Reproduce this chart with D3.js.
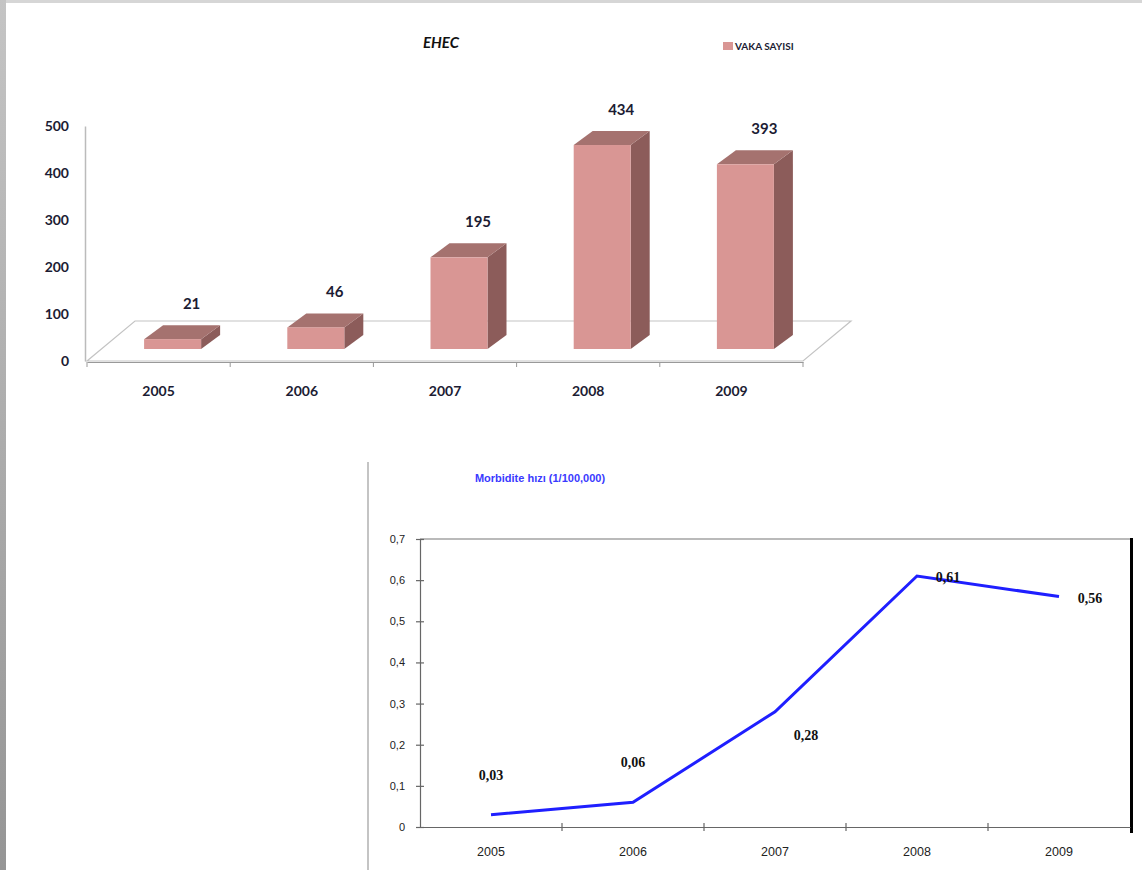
<!DOCTYPE html>
<meta charset="utf-8">
<style>
body { margin: 0; background: #fff; }
text { font-family: Lato, 'Open Sans', sans-serif; }
.barAxis text { font-size: 14px; font-weight: bold; fill: #1c1c33; }
.valueLabel { font-size: 15px; font-weight: bold; fill: #1c1c33; text-anchor: middle; }
.lineAxis text { font-family: 'Liberation Sans', Arial, sans-serif; font-size: 11px; fill: #222; }
.pointLabel { font-family: 'Liberation Serif', 'Times New Roman', serif; font-size: 14px; font-weight: bold; fill: #111; text-anchor: middle; }
</style>
<svg width="1142" height="870"></svg>
<script src="https://d3js.org/d3.v7.min.js"></script>
<script>

var years = ["2005", "2006", "2007", "2008", "2009"];
var caseCounts = [21, 46, 195, 434, 393];
var caseTicks = [0, 100, 200, 300, 400, 500];
var morbidity = [0.03, 0.06, 0.28, 0.61, 0.56];
var morbidityTicks = [0, 0.1, 0.2, 0.3, 0.4, 0.5, 0.6, 0.7];
var pointLabelSide = ["above", "above", "belowRight", "right", "right"];

var svg = d3.select("svg");

// page frame
var frameGrad = svg.append("defs").append("linearGradient")
    .attr("id", "frameGrad").attr("x1", 0).attr("y1", 0).attr("x2", 0).attr("y2", 1);
frameGrad.append("stop").attr("offset", "0%").attr("stop-color", "#c4c4c4");
frameGrad.append("stop").attr("offset", "100%").attr("stop-color", "#959595");
svg.append("rect").attr("x", 0).attr("y", 0).attr("width", 1142).attr("height", 3).attr("fill", "#d6d6d6");
svg.append("rect").attr("x", 0).attr("y", 0).attr("width", 6).attr("height", 870).attr("fill", "url(#frameGrad)");

// ---------- 3D bar chart ----------
var floorDepth = [48, -40],
    barStart = [14, -12],
    barDepth = [19, -14];

var x = d3.scaleBand().domain(years).range([87, 803]);
var y = d3.scaleLinear().domain([0, 500]).range([361, 126]);
var barWidth = 57;

// floor
var fl = [[87, y(0)], [803, y(0)], [803 + floorDepth[0], y(0) + floorDepth[1]], [87 + floorDepth[0], y(0) + floorDepth[1]]];
svg.append("polygon")
    .attr("points", fl.map(function(p) { return p.join(","); }).join(" "))
    .attr("fill", "#fff").attr("stroke", "#c4c4c4").attr("stroke-width", 1.2);

// x axis
var xAxisG = svg.append("g")
    .attr("class", "barAxis")
    .attr("transform", "translate(0," + (y(0) + 1) + ")")
    .call(d3.axisBottom(x).tickSize(0).tickPadding(24));
xAxisG.select(".domain").attr("stroke", "#999");
xAxisG.selectAll(".bound")
    .data(years.map(function(d) { return x(d); }).concat([x.range()[1]]))
    .enter().append("line")
    .attr("x1", function(d) { return d; }).attr("x2", function(d) { return d; })
    .attr("y1", 0).attr("y2", 5).attr("stroke", "#999");

// y axis
var yAxisG = svg.append("g")
    .attr("class", "barAxis")
    .attr("transform", "translate(85,0)")
    .call(d3.axisLeft(y).tickValues(caseTicks).tickSize(0).tickPadding(16));
yAxisG.select(".domain").attr("stroke", "#bbb").attr("stroke-width", 1.5);

// bars
var bars = svg.selectAll(".bar3d")
    .data(years.map(function(d, i) { return {year: d, value: caseCounts[i]}; }))
    .enter().append("g").attr("class", "bar3d");

function pts(a) { return a.map(function(p) { return p.join(","); }).join(" "); }

bars.each(function(d) {
  var g = d3.select(this);
  var x0 = x(d.year) + (x.bandwidth() - barWidth) / 2 + barStart[0],
      x1 = x0 + barWidth,
      yb = y(0) + barStart[1],
      yt = y(d.value) + barStart[1],
      dx = barDepth[0], dy = barDepth[1];
  g.append("polygon").attr("points", pts([[x1, yb], [x1 + dx, yb + dy], [x1 + dx, yt + dy], [x1, yt]]))
      .attr("fill", "#8c5c5a");
  g.append("polygon").attr("points", pts([[x0, yt], [x1, yt], [x1 + dx, yt + dy], [x0 + dx, yt + dy]]))
      .attr("fill", "#a5726f");
  g.append("rect").attr("x", x0).attr("y", yt).attr("width", barWidth).attr("height", yb - yt)
      .attr("fill", "#d99694");
  g.append("text").attr("class", "valueLabel")
      .attr("x", x0 + barWidth / 2 + dx)
      .attr("y", yt + dy - 16)
      .text(d.value);
});

// title + legend
svg.append("text").attr("x", 441).attr("y", 48).attr("text-anchor", "middle")
    .style("font-size", "15px").style("font-weight", "bold").style("font-style", "italic").style("fill", "#111")
    .text("EHEC");
svg.append("rect").attr("x", 723).attr("y", 42).attr("width", 10).attr("height", 8).attr("fill", "#d99694");
svg.append("text").attr("x", 735).attr("y", 50)
    .style("font-size", "10px").style("font-weight", "bold").style("fill", "#1c1c33")
    .text("VAKA SAYISI");

// ---------- line chart ----------
svg.append("line").attr("x1", 368).attr("x2", 368).attr("y1", 462).attr("y2", 870)
    .attr("stroke", "#b0b0b0").attr("stroke-width", 1.5);

svg.append("text").attr("x", 540).attr("y", 482).attr("text-anchor", "middle")
    .style("font-family", "'Liberation Sans', Arial, sans-serif")
    .style("font-size", "11px").style("font-weight", "bold").style("fill", "#3a3aff")
    .text("Morbidite hızı (1/100,000)");

var lx = d3.scaleBand().domain(years).range([420, 1130]);
var ly = d3.scaleLinear().domain([0, 0.7]).range([827, 539]);
var trFormat = d3.formatLocale({decimal: ",", thousands: ".", grouping: [3], currency: ["", ""]}).format;

// top border, right black border
svg.append("line").attr("x1", 420).attr("x2", 1130).attr("y1", ly(0.7)).attr("y2", ly(0.7))
    .attr("stroke", "#777").attr("stroke-width", 1.2);
svg.append("line").attr("x1", 1131.5).attr("x2", 1131.5).attr("y1", ly(0.7) - 1).attr("y2", ly(0) + 6)
    .attr("stroke", "#000").attr("stroke-width", 3);

var lyAxis = svg.append("g").attr("class", "lineAxis")
    .attr("transform", "translate(420,0)")
    .call(d3.axisLeft(ly).tickValues(morbidityTicks).tickSize(4).tickPadding(11)
      .tickFormat(function(d) { return d === 0 ? "0" : trFormat(".1f")(d); }));
lyAxis.selectAll(".tick line").attr("x1", 4).attr("x2", -4);
lyAxis.selectAll("line, .domain").attr("stroke", "#666").attr("stroke-width", 1.2);

var lxAxis = svg.append("g").attr("class", "lineAxis")
    .attr("transform", "translate(0," + ly(0) + ")")
    .call(d3.axisBottom(lx).tickSize(0).tickPadding(20));
lxAxis.selectAll(".tick text").style("font-size", "12.5px");
lxAxis.select(".domain").attr("stroke", "#666").attr("stroke-width", 1.2);
lxAxis.selectAll(".bound")
    .data(years.slice(1).map(function(d) { return lx(d); }))
    .enter().append("line")
    .attr("x1", function(d) { return d; }).attr("x2", function(d) { return d; })
    .attr("y1", -4).attr("y2", 4).attr("stroke", "#666").attr("stroke-width", 1.2);

var linePts = years.map(function(d, i) { return {year: d, value: morbidity[i], side: pointLabelSide[i]}; });

svg.append("path").datum(linePts)
    .attr("fill", "none").attr("stroke", "#1f1fff").attr("stroke-width", 3)
    .attr("d", d3.line()
      .x(function(d) { return lx(d.year) + lx.bandwidth() / 2; })
      .y(function(d) { return ly(d.value); }));

svg.selectAll(".pointLabel").data(linePts).enter().append("text")
    .attr("class", "pointLabel")
    .attr("x", function(d) {
      var cx = lx(d.year) + lx.bandwidth() / 2;
      return d.side === "above" ? cx : cx + 31;
    })
    .attr("y", function(d) {
      var cy = ly(d.value);
      if (d.side === "above") return cy - 35;
      if (d.side === "belowRight") return cy + 28;
      return cy + 6;
    })
    .text(function(d) { return trFormat(".2f")(d.value); });

</script>
